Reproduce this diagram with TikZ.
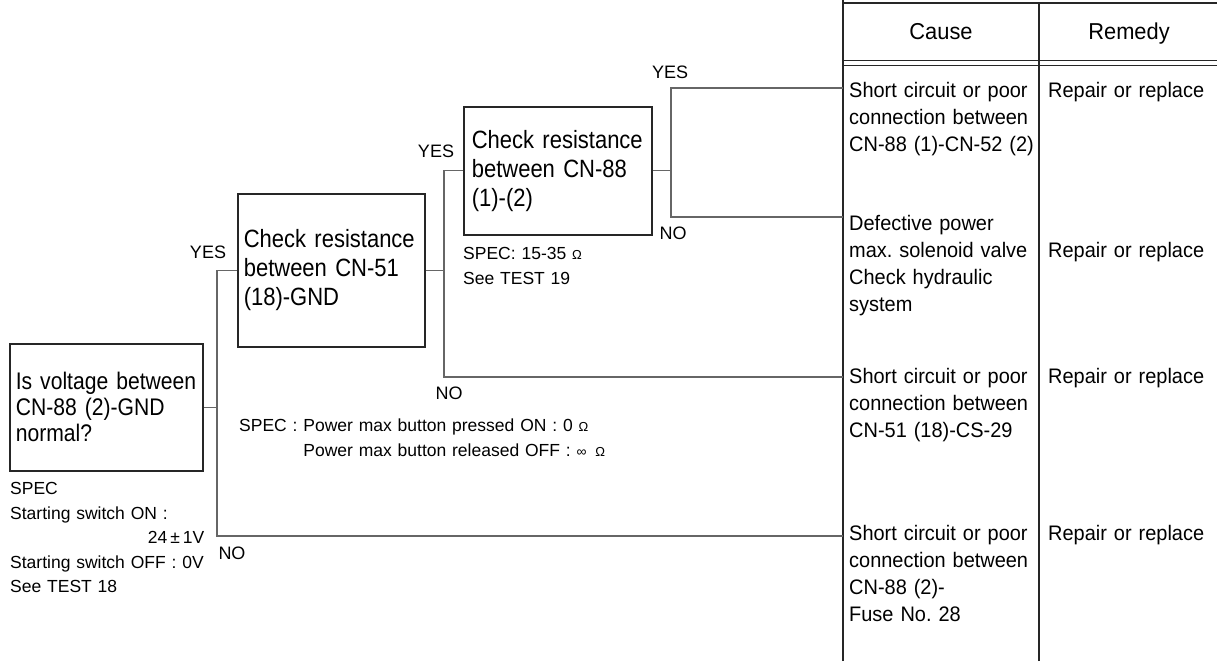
\documentclass[tikz,border=0pt]{standalone}
\usepackage{fontspec}
\setmainfont{Liberation Sans}
\newfontfamily\narrowfont{Liberation Sans}[FakeStretch=0.88]
\newfontfamily\causefont{Liberation Sans}[FakeStretch=0.95]
\usetikzlibrary{positioning,calc}

\newcommand\ohmsym{{\fontsize{13}{13}\selectfont Ω}}

\begin{document}
\frenchspacing
\begin{tikzpicture}[x=1pt,y=-1pt,
  box/.style={draw=black!85,line width=1.6pt,anchor=north west,align=left,inner xsep=6pt,font=\narrowfont\fontsize{25}{29}\selectfont},
  link/.style={draw=black!60,line width=1.3pt},
  rule/.style={draw=black!85,line width=1.3pt},
  yn/.style={font=\fontsize{18}{18}\selectfont,inner sep=0pt},
  head/.style={anchor=base,font=\causefont\fontsize{23}{23}\selectfont},
  spec/.style={anchor=base west,align=left,inner sep=0pt,font=\fontsize{17.5}{24.5}\selectfont},
  cause/.style={anchor=base west,align=left,inner sep=0pt,text width=190pt,font=\causefont\fontsize{21}{27}\selectfont}]
\useasboundingbox (0,0) rectangle (1217,661);
% check boxes
\node[box,text width=181pt,minimum height=127pt,font=\narrowfont\fontsize{24}{26}\selectfont] (q1) at (9,343) {Is voltage between\\CN-88 (2)-GND\\normal?};
\node[box,text width=175pt,minimum height=153pt] (c2) at (237,193) {Check resistance\\between CN-51\\(18)-GND};
\node[box,text width=172pt,inner xsep=8pt,minimum height=128pt] (c3) at (463,106) {Check resistance\\between CN-88\\(1)-(2)};
% table
\draw[rule] (843,661) -- (843,0) (843,3) -- (1217,3);
\draw[rule] (1039,661) -- (1039,3);
\draw[rule,line width=1pt] (843,61) -- (1217,61) (843,65) -- (1217,65);
\node[head] (hc) at (941,40) {Cause};
\node[head] (hr) at (1129,40) {Remedy};
\coordinate (t1) at (843,88);
\coordinate (t2) at (843,217);
\coordinate (t3) at (843,377);
\coordinate (t4) at (843,536);
% branches
\coordinate (b1) at (217,536);
\coordinate (b2) at (444,377);
\coordinate (b3) at (671,217);
\draw[link] (q1.east) -- (q1.east -| b1);
\draw[link] (c2.west) -| (b1) -- (t4);
\draw[link] (c2.east) -- (c2.east -| b2);
\draw[link] (c3.west) -| (b2) -- (t3);
\draw[link] (c3.east) -- (c3.east -| b3);
\draw[link] (t1) -| (b3) -- (t2);
\node[yn] (y1) at (208,252) {YES};
\node[yn] (y2) at (436,151) {YES};
\node[yn] (y3) at (670,72) {YES};
\node[yn] (n1) at (232,553) {NO};
\node[yn] (n2) at (449,393) {NO};
\node[yn] (n3) at (673,233) {NO};
% specs
\node[spec,text width=194pt] (s1) at (10,494.5) {SPEC\\Starting switch ON :\\\hspace*{\fill}24\,±\,1V\\Starting switch OFF : 0V\\See TEST 18};
\node[spec,text width=200pt] (s2) at (463,259.5) {SPEC: 15-35 \ohmsym\\See TEST 19};
\node[spec,text width=420pt] (s3) at (239,431.5) {SPEC : Power max button pressed ON : 0 \ohmsym\\\hphantom{SPEC : }Power max button released OFF : {\fontsize{14}{14}\selectfont ∞}\enspace\ohmsym};
% causes and remedies
\node[cause] (r1) at (849,97.5) {Short circuit or poor\\connection between\\CN-88 (1)-CN-52 (2)};
\node[cause] (r2) at (849,230.5) {Defective power\\max. solenoid valve\\Check hydraulic\\system};
\node[cause] (r3) at (849,383.5) {Short circuit or poor\\connection between\\CN-51 (18)-CS-29};
\node[cause] (r4) at (849,540.5) {Short circuit or poor\\connection between\\CN-88 (2)-\\Fuse No. 28};
\foreach \y [count=\i] in {97.5,257.5,383.5,540.5}
  \node[cause] (m\i) at (1048,\y) {Repair or replace};
\end{tikzpicture}
\end{document}
